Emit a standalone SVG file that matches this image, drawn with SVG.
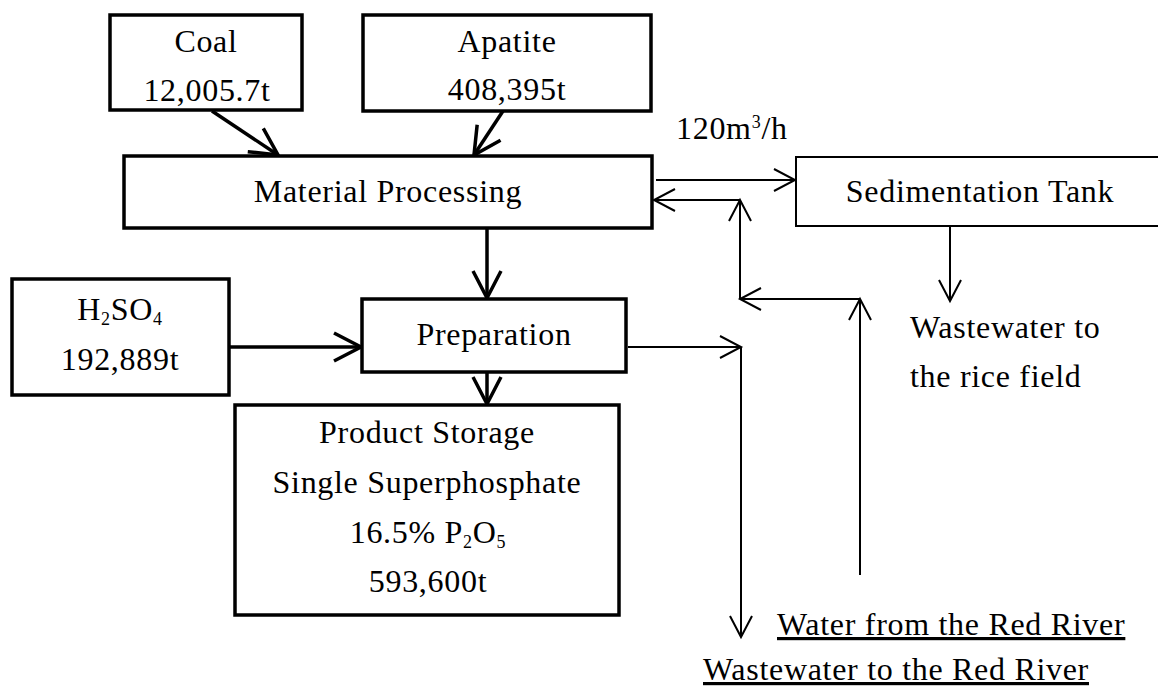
<svg xmlns="http://www.w3.org/2000/svg" width="1158" height="689" viewBox="0 0 1158 689">
  <style>
    text { font-family: "Liberation Serif", "Times New Roman", serif; font-size: 32px; letter-spacing: 0.7px; fill: #000; }
    .c { text-anchor: middle; }
    .sub { font-size: 18px; }
    .box { fill: #fff; stroke: #000; stroke-width: 3.5; }
    .box-thin { fill: #fff; stroke: #000; stroke-width: 2; }
    .thick { fill: none; stroke: #000; stroke-width: 3.5; marker-end: url(#head-thick); }
    .thin { fill: none; stroke: #000; stroke-width: 2; marker-end: url(#head-thin); }
  </style>
  <defs>
    <marker id="head-thick" markerUnits="userSpaceOnUse" markerWidth="40" markerHeight="40" refX="0" refY="0" orient="auto" overflow="visible">
      <path d="M-27,-14 L0,0 L-27,14" fill="none" stroke="#000" stroke-width="3.5"/>
    </marker>
    <marker id="head-thin" markerUnits="userSpaceOnUse" markerWidth="30" markerHeight="30" refX="0" refY="0" orient="auto" overflow="visible">
      <path d="M-21,-11 L0,0 L-21,11" fill="none" stroke="#000" stroke-width="2"/>
    </marker>
  </defs>
  <rect width="1158" height="689" fill="#fff"/>

  <g id="connectors">
    <!-- raw material feeds -->
    <line class="thick" x1="212" y1="111" x2="278" y2="155"/>
    <line class="thick" x1="503" y1="111" x2="474" y2="155"/>
    <line class="thick" x1="487" y1="228" x2="487" y2="298"/>
    <line class="thick" x1="229" y1="347" x2="361" y2="347"/>
    <line class="thick" x1="487" y1="372" x2="487" y2="404"/>
    <!-- water circuit -->
    <line class="thin" x1="656" y1="180" x2="795" y2="180"/>
    <line class="thin" x1="950" y1="227" x2="950" y2="301"/>
    <line class="thin" x1="860" y1="575" x2="860" y2="299"/>
    <line class="thin" x1="860" y1="299" x2="740" y2="299"/>
    <line class="thin" x1="740" y1="299" x2="740" y2="200"/>
    <line class="thin" x1="740" y1="200" x2="654" y2="200"/>
    <line class="thin" x1="628" y1="347" x2="741" y2="347"/>
    <line class="thin" x1="741" y1="347" x2="741" y2="637"/>
  </g>

  <g id="coal">
    <rect class="box" x="110" y="15" width="192" height="95"/>
    <text class="c" x="206" y="52">Coal</text>
    <text class="c" x="207" y="101">12,005.7t</text>
  </g>

  <g id="apatite">
    <rect class="box" x="363" y="15" width="288" height="96"/>
    <text class="c" x="507" y="52">Apatite</text>
    <text class="c" x="507" y="100">408,395t</text>
  </g>

  <g id="material-processing">
    <rect class="box" x="124" y="156" width="528" height="72"/>
    <text class="c" x="388" y="202">Material Processing</text>
  </g>

  <g id="flow-rate">
    <text x="676" y="139">120m<tspan class="sub" dy="-11">3</tspan><tspan dy="11">/h</tspan></text>
  </g>

  <g id="sedimentation-tank">
    <!-- box runs past the right edge of the sheet -->
    <rect class="box-thin" x="796" y="157" width="380" height="69"/>
    <text class="c" x="980" y="202">Sedimentation Tank</text>
  </g>

  <g id="rice-field">
    <text x="910" y="338">Wastewater to</text>
    <text x="910" y="387">the rice field</text>
  </g>

  <g id="h2so4">
    <rect class="box" x="12" y="279" width="217" height="116"/>
    <text class="c" x="120" y="320">H<tspan class="sub" dy="5">2</tspan><tspan dy="-5">SO</tspan><tspan class="sub" dy="5">4</tspan></text>
    <text class="c" x="120" y="370">192,889t</text>
  </g>

  <g id="preparation">
    <rect class="box" x="362" y="299" width="264" height="73"/>
    <text class="c" x="494" y="345">Preparation</text>
  </g>

  <g id="product-storage">
    <rect class="box" x="235" y="405" width="384" height="210"/>
    <text class="c" x="427" y="443">Product Storage</text>
    <text class="c" x="427" y="493">Single Superphosphate</text>
    <text class="c" x="428" y="543">16.5% P<tspan class="sub" dy="5">2</tspan><tspan dy="-5">O</tspan><tspan class="sub" dy="5">5</tspan></text>
    <text class="c" x="428" y="592">593,600t</text>
  </g>

  <g id="red-river-in">
    <text x="777" y="635" text-decoration="underline">Water from the Red River</text>
  </g>

  <g id="red-river-out">
    <text x="703" y="680" text-decoration="underline">Wastewater to the Red River</text>
  </g>
</svg>
